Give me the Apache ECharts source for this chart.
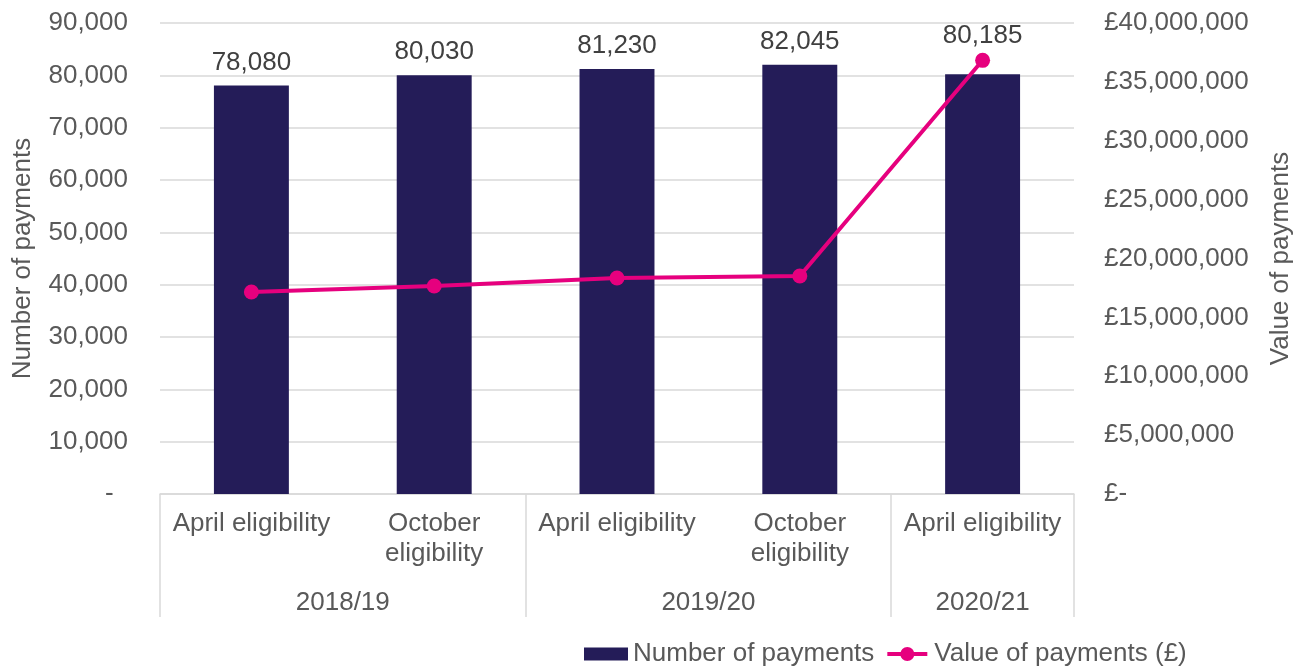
<!DOCTYPE html>
<html>
<head>
<meta charset="utf-8">
<script src="https://cdn.jsdelivr.net/npm/echarts@6/dist/echarts.min.js"></script>
<style>
  html, body { margin: 0; padding: 0; background: #fff; }
  #main { width: 1305px; height: 671px; }
</style>
</head>
<body>
<div id="main"></div>
<script>
// 数据
var periods = ['April eligibility', 'October\neligibility', 'April eligibility', 'October\neligibility', 'April eligibility'];
var years = ['2018/19', '2019/20', '2020/21'];
var yearBounds = [0, 2, 4, 5];          // category boundaries of each year group
var numPayments = [78080, 80030, 81230, 82045, 80185];
var valuePayments = [17150000, 17660000, 18340000, 18510000, 36830000];

var txt = '#595959';
var font = 'Liberation Sans, Arial, sans-serif';
var fs = 26;

function fmt(n) {
    return n.toString().replace(/\B(?=(\d{3})+(?!\d))/g, ',');
}

// year label positions = middle of each group
var yearMid = [];
for (var i = 0; i < years.length; i++) {
    yearMid.push((yearBounds[i] + yearBounds[i + 1]) / 2);
}

var barData = numPayments.map(function (v, i) {
    var item = { value: v };
    if (i === numPayments.length - 1) {
        item.label = { offset: [0, -16] };   // moved up so it clears the line marker
    }
    return item;
});

var chart = echarts.init(document.getElementById('main'));
chart.setOption({
    textStyle: { fontFamily: font },
    animation: false,
    grid: {
        left: 160,
        right: 231,
        top: 23,
        bottom: 177,
        outerBoundsMode: 'none'
    },
    legend: {
        left: 579,
        top: 636,
        itemGap: 13,
        itemWidth: 44,
        itemHeight: 14,
        textStyle: { color: txt, fontSize: fs, fontFamily: font },
        data: [
            { name: 'Number of payments', icon: 'path://M0,0.5 H44 V13.5 H0 Z' },
            { name: 'Value of payments (£)', icon: 'path://M2,5 H42 V9 H2 Z M22,0 A7,7 0 1,1 22,14 A7,7 0 1,1 22,0 Z' }
        ]
    },
    xAxis: [{
        type: 'category',
        data: periods,
        axisLine: { lineStyle: { color: '#d9d9d9', width: 1.5 } },
        axisTick: { show: false },
        axisLabel: {
            color: txt,
            fontSize: fs,
            lineHeight: 30,
            margin: 15,
            interval: 0,
            fontFamily: font
        }
    }, {
        type: 'value',
        min: 0,
        max: 5,
        position: 'bottom',
        axisLine: { show: false },
        splitLine: { show: false },
        axisTick: {
            show: true,
            customValues: yearBounds,
            length: 123,
            lineStyle: { color: '#d9d9d9', width: 1.5 }
        },
        axisLabel: {
            customValues: yearMid,
            margin: 96,
            color: txt,
            fontSize: fs,
            fontFamily: font,
            formatter: function (v) {
                var idx = yearMid.indexOf(v);
                return idx >= 0 ? years[idx] : '';
            }
        }
    }],
    yAxis: [{
        type: 'value',
        min: 0,
        max: 90000,
        interval: 10000,
        name: 'Number of payments',
        nameLocation: 'middle',
        nameRotate: 90,
        nameGap: 124,
        nameTextStyle: { color: txt, fontSize: fs, fontFamily: font },
        axisLine: { show: false },
        axisTick: { show: false },
        splitLine: { lineStyle: { color: '#d9d9d9', width: 1.5 } },
        axisLabel: {
            color: txt,
            fontSize: fs,
            margin: 32,
            fontFamily: font,
            formatter: function (v) { return v === 0 ? '-  ' : fmt(v); }
        }
    }, {
        type: 'value',
        min: 0,
        max: 40000000,
        interval: 5000000,
        position: 'right',
        name: 'Value of payments',
        nameLocation: 'middle',
        nameRotate: 90,
        nameGap: 194,
        nameTextStyle: { color: txt, fontSize: fs, fontFamily: font },
        axisLine: { show: false },
        axisTick: { show: false },
        splitLine: { show: false },
        axisLabel: {
            color: txt,
            fontSize: fs,
            margin: 30,
            fontFamily: font,
            formatter: function (v) { return v === 0 ? '£-' : '£' + fmt(v); }
        }
    }],
    series: [{
        name: 'Number of payments',
        type: 'bar',
        barCategoryGap: '59%',
        itemStyle: { color: '#241c58' },
        label: {
            show: true,
            position: 'top',
            distance: 10,
            color: '#404040',
            fontSize: fs,
            fontFamily: font,
            formatter: function (p) { return fmt(p.value); }
        },
        data: barData
    }, {
        name: 'Value of payments (£)',
        type: 'line',
        yAxisIndex: 1,
        symbol: 'circle',
        symbolSize: 15,
        lineStyle: { color: '#e6007e', width: 4 },
        itemStyle: { color: '#e6007e' },
        data: valuePayments
    }]
});
</script>
</body>
</html>
